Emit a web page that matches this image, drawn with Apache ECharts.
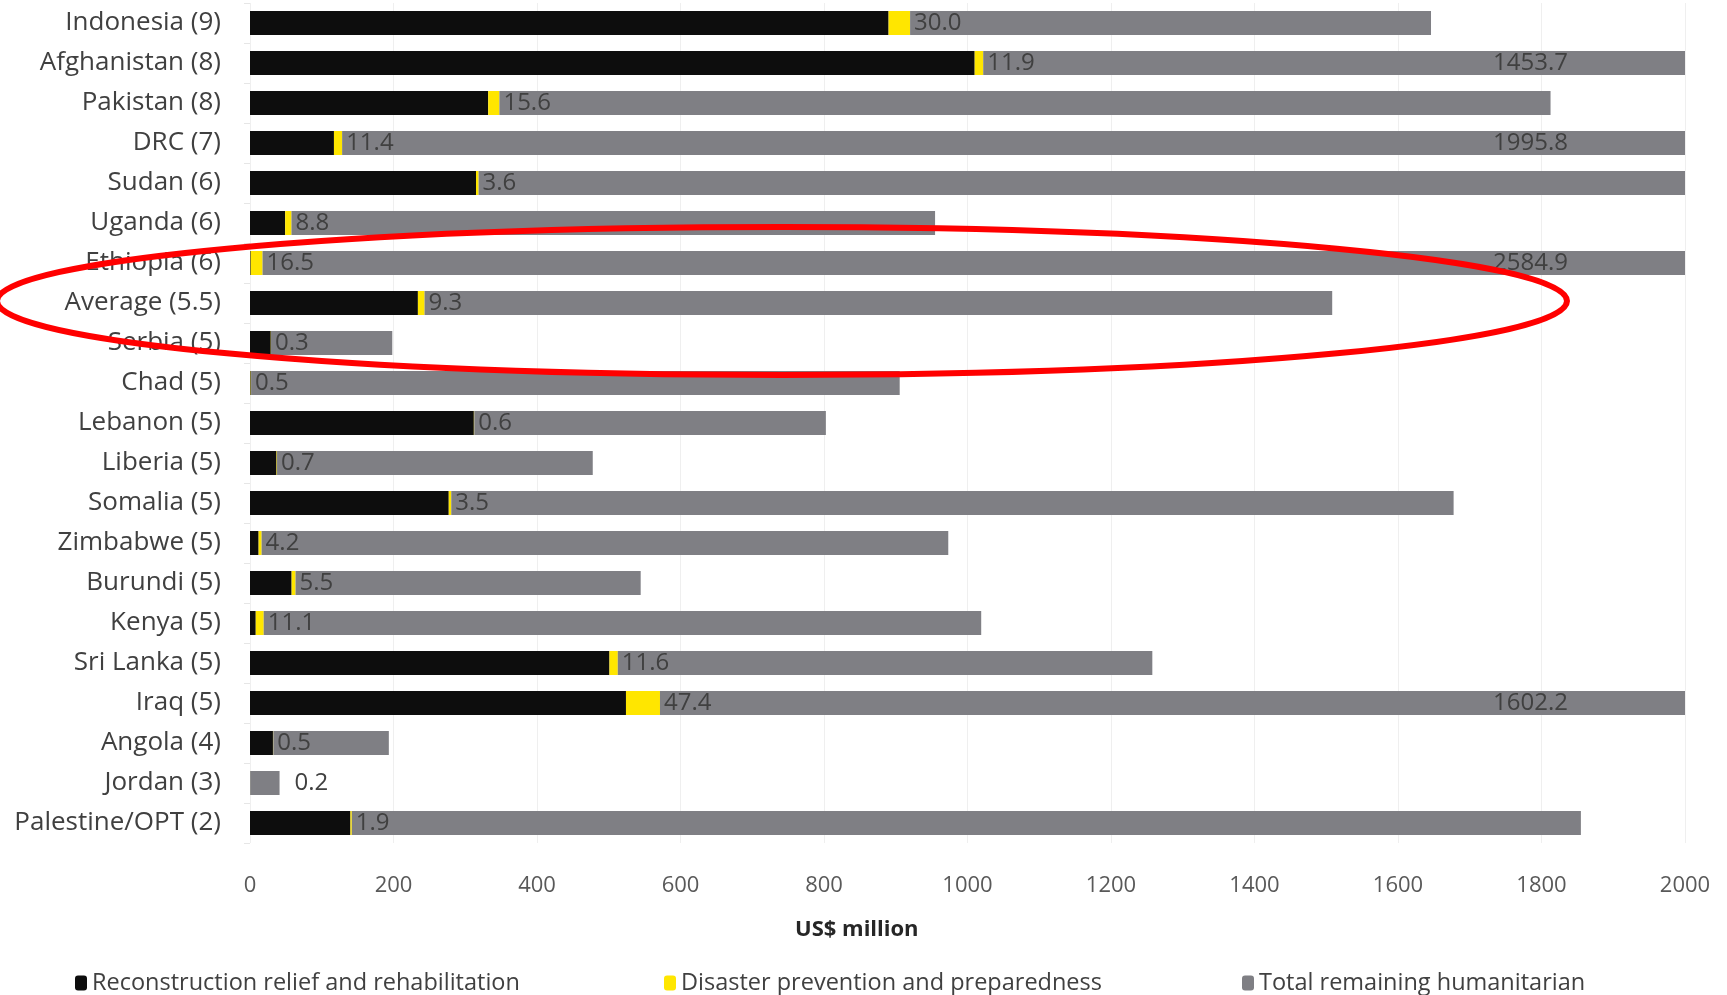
<!DOCTYPE html>
<html>
<head>
<meta charset="utf-8">
<script src="https://cdn.jsdelivr.net/npm/echarts@6/dist/echarts.min.js"></script>
<style>
html,body{margin:0;padding:0;background:#fff;}
#chart{width:1727px;height:995px;}
</style>
</head>
<body>
<div id="chart"></div>
<script>
// ---- data (US$ million) ----
var categories = ['Indonesia (9)','Afghanistan (8)','Pakistan (8)','DRC (7)','Sudan (6)','Uganda (6)','Ethiopia (6)','Average (5.5)','Serbia (5)','Chad (5)','Lebanon (5)','Liberia (5)','Somalia (5)','Zimbabwe (5)','Burundi (5)','Kenya (5)','Sri Lanka (5)','Iraq (5)','Angola (4)','Jordan (3)','Palestine/OPT (2)'];
var reconstruction = [890, 1010, 332, 117, 315, 49, 1, 234, 29, 1, 312, 37, 277, 12, 58, 8, 501, 524, 32, 0, 140];
var disasterPrevention = [30.0, 11.9, 15.6, 11.4, 3.6, 8.8, 16.5, 9.3, 0.3, 0.5, 0.6, 0.7, 3.5, 4.2, 5.5, 11.1, 11.6, 47.4, 0.5, 0.2, 1.9];
var remainingHumanitarian = [726, 1453.7, 1465, 1995.8, 1750, 897, 2584.9, 1265, 169, 904, 490, 440, 1397, 957, 481, 1000, 745, 1602.2, 161, 41, 1713];
var remainingLabelled = ['Afghanistan (8)','DRC (7)','Ethiopia (6)','Iraq (5)'];
var preventionLabelAfterBar = ['Jordan (3)'];
var xTicks = [0, 200, 400, 600, 800, 1000, 1200, 1400, 1600, 1800, 2000];
var seriesNames = ['Reconstruction relief and rehabilitation','Disaster prevention and preparedness','Total remaining humanitarian'];

var FONT = '"Open Sans"';
var labelStyle = {color:'#404040', fontSize:24, fontFamily:FONT};

var yellowData = disasterPrevention.map(function(v,i){
  var item = {value:v};
  if (preventionLabelAfterBar.indexOf(categories[i]) >= 0) item.label = {show:false};
  return item;
});
var grayData = remainingHumanitarian.map(function(v,i){
  var item = {value:v};
  if (remainingLabelled.indexOf(categories[i]) >= 0) {
    item.label = {show:true, position:'insideRight', offset:[-112,0], formatter:function(){return v.toFixed(1);}};
  } else if (preventionLabelAfterBar.indexOf(categories[i]) >= 0) {
    var yv = disasterPrevention[i];
    item.label = {show:true, position:'right', distance:15, formatter:function(){return yv.toFixed(1);}};
  }
  return item;
});

var chart = echarts.init(document.getElementById('chart'), null, {renderer:'canvas'});
var legendText = {color:'#404040', fontSize:23.5, fontFamily:FONT};
var option = {
  animation:false,
  backgroundColor:'#fff',
  grid:{left:250, right:42, top:3, bottom:152, containLabel:false},
  xAxis:{
    type:'value', min:0, max:2000, interval:200,
    axisLine:{show:false}, axisTick:{show:false},
    splitLine:{show:true, lineStyle:{color:'#efefef', width:1}},
    axisLabel:{color:'#595959', fontSize:22, fontFamily:FONT, margin:32,
      formatter:function(v){return xTicks.indexOf(v)>=0 ? String(v) : '';}}
  },
  yAxis:{
    type:'category', data:categories, inverse:true,
    axisLine:{show:false},
    axisTick:{show:true, length:6, lineStyle:{color:'#e6e6e6'}},
    axisLabel:{color:'#404040', fontSize:26, fontFamily:FONT, margin:29}
  },
  legend:[
    {data:[seriesNames[0]], left:70, top:966, itemWidth:12, itemHeight:15, itemGap:6, textStyle:legendText},
    {data:[seriesNames[1]], left:659, top:966, itemWidth:12, itemHeight:15, itemGap:6, textStyle:legendText},
    {data:[seriesNames[2]], left:1237, top:966, itemWidth:12, itemHeight:15, itemGap:6, textStyle:legendText}
  ],
  graphic:[
    {type:'text', left:795, top:919, style:{text:'US$ million', fill:'#262626', font:'bold 22px "Open Sans"'}},
    {type:'ellipse', shape:{cx:782, cy:301, rx:785, ry:74}, style:{fill:'none', stroke:'#ff0000', lineWidth:6}, z:100}
  ],
  series:[
    {name:seriesNames[0], type:'bar', stack:'t', data:reconstruction, barWidth:'60%',
     itemStyle:{color:'#0d0d0d'}, label:{show:false}},
    {name:seriesNames[1], type:'bar', stack:'t', data:yellowData, barWidth:'60%',
     itemStyle:{color:'#ffe600'},
     label:Object.assign({show:true, position:'right', distance:4, formatter:function(p){return p.value.toFixed(1);}}, labelStyle)},
    {name:seriesNames[2], type:'bar', stack:'t', data:grayData, barWidth:'60%',
     itemStyle:{color:'#7f7f84'},
     label:Object.assign({show:false}, labelStyle)}
  ]
};
chart.setOption(option);
</script>
</body>
</html>
